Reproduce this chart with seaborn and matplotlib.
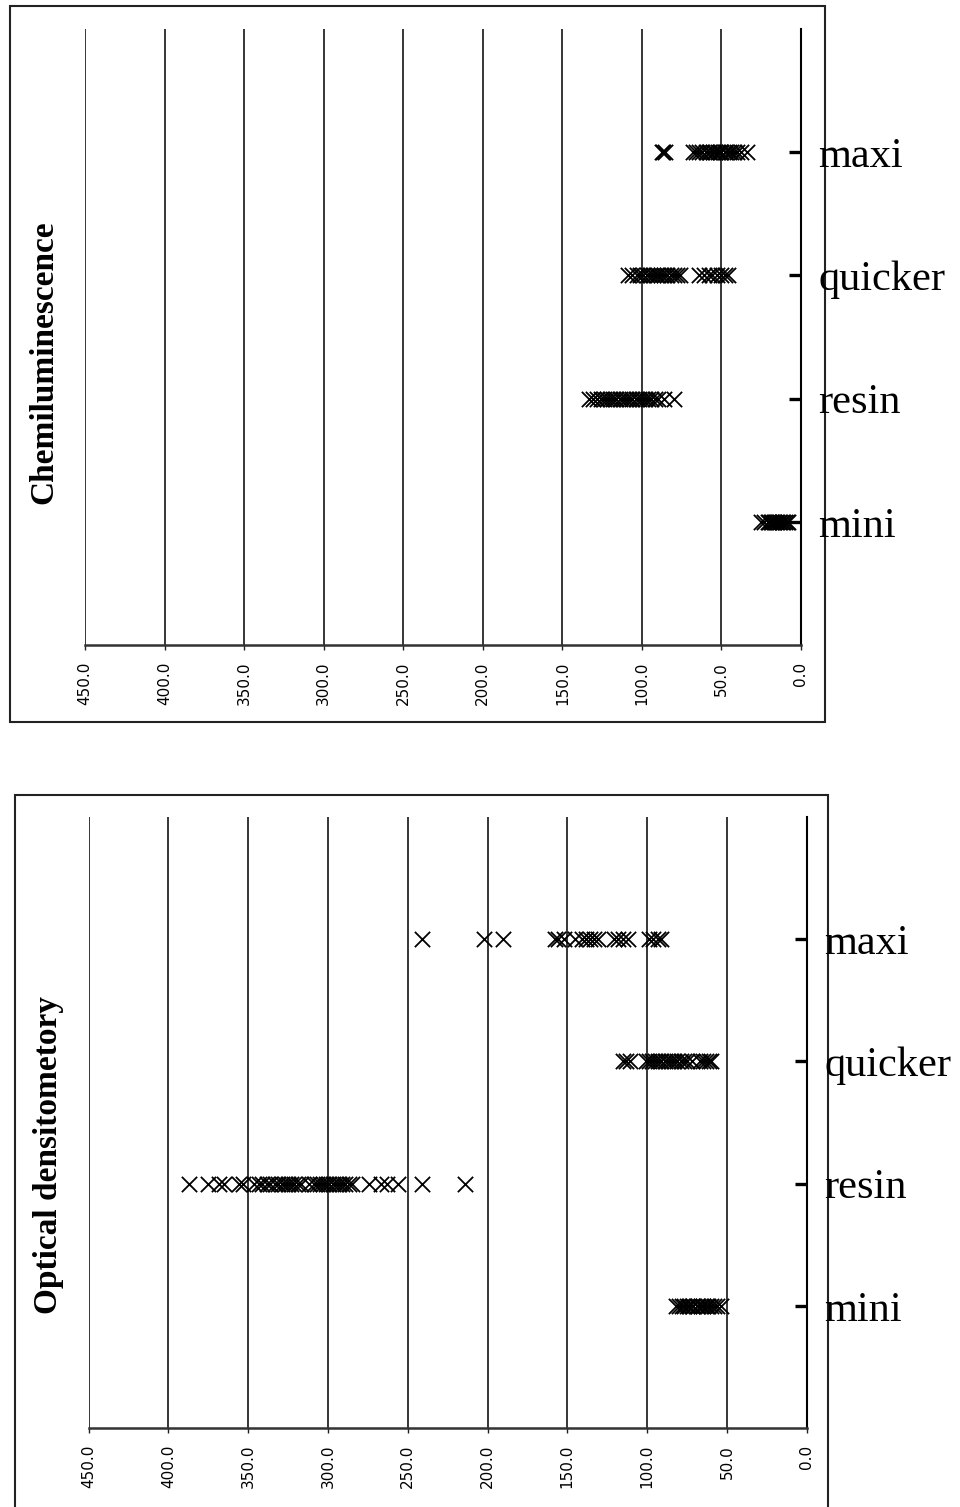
import numpy as np
import pandas as pd
import matplotlib
matplotlib.use("Agg")
import matplotlib.pyplot as plt
import seaborn as sns
from matplotlib.patches import Rectangle

# ---------------- data ----------------
categories = ["maxi", "quicker", "resin", "mini"]
value_ticks = [450, 400, 350, 300, 250, 200, 150, 100, 50, 0]
value_tick_labels = ["450.0", "400.0", "350.0", "300.0", "250.0",
                     "200.0", "150.0", "100.0", "50.0", "0.0"]

# Chemiluminescence panel
chemi_maxi = [87.5, 86.5, 85.5, 68, 66, 64, 62, 60, 58, 57, 55, 54, 52, 51,
              50, 48, 47, 45, 44, 42, 40, 38, 34]
chemi_quicker = [109, 106, 103, 101, 99, 97, 95, 93, 91, 90, 88, 86, 84, 82,
                 80, 78, 76, 64, 61, 58, 56, 53, 50, 48, 46]
chemi_resin = [133, 131, 128, 126, 124, 122, 120, 118, 116, 114, 112, 110, 108,
               106, 104, 102, 100, 98, 96, 94, 92, 90, 86, 80]
chemi_mini = [25, 23, 21, 20, 19, 18, 17, 16, 15, 14, 13, 12, 11, 10, 9, 8]

# Optical densitometry panel
od_maxi = [241, 202, 190, 158, 156, 152, 145, 141, 138, 136, 133, 131,
           121, 118, 115, 112, 99, 96, 93, 91]
od_quicker = [115, 113, 111, 101, 99, 97, 95, 93, 91, 89, 87, 85, 83, 81, 79,
              77, 75, 72, 67, 65, 63, 61, 60]
od_resin = [387, 375, 368, 365, 356, 353, 346, 343, 341, 338, 336, 333, 331,
            329, 327, 325, 323, 321, 319, 317, 312, 309, 307, 305, 303, 301,
            299, 297, 295, 293, 291, 289, 287, 285, 274, 267, 263, 256, 241, 214]
od_mini = [82, 80, 78, 77, 75, 74, 72, 71, 69, 68, 66, 65, 63, 62, 60, 58, 56, 54]

panel_titles = ["Chemiluminescence", "Optical densitometory"]

# ---------------- style ----------------
sns.set_theme(style="white")
plt.rcParams["font.family"] = ["DejaVu Sans"]
plt.rcParams["text.color"] = "black"
plt.rcParams["xtick.color"] = "black"
plt.rcParams["ytick.color"] = "black"
plt.rcParams["axes.labelcolor"] = "black"

W, H = 960, 1507
fig = plt.figure(figsize=(W / 100, H / 100), dpi=100)


def fx(px):
    return px / W


def fy(py):
    return 1 - py / H


def draw_panel(left, right, top, bottom, series, title, title_xy, box):
    ax = fig.add_axes([fx(left), fy(bottom), fx(right - left), (bottom - top) / H])
    rows = []
    for i, cat in enumerate(categories):
        for v in series[i]:
            rows.append({"category": cat, "pos": i + 1, "value": v})
    df = pd.DataFrame(rows)
    sns.scatterplot(data=df, x="value", y="pos", marker="x", color="black",
                    s=121, linewidth=1.3, ax=ax, legend=False, zorder=3)
    ax.set_xlim(450, 0)
    ax.set_ylim(5, 0)
    ax.set_xlabel("")
    ax.set_ylabel("")
    ax.set_facecolor("white")

    ax.set_xticks(value_ticks)
    ax.set_xticklabels(value_tick_labels, rotation=90)
    ax.tick_params(axis="x", direction="out", length=3.6, width=1.0,
                   color="#222222", pad=8.5, labelsize=11, bottom=True,
                   labelcolor="black")

    ax.yaxis.tick_right()
    ax.set_yticks([1, 2, 3, 4])
    ax.set_yticklabels(categories)
    ax.tick_params(axis="y", direction="in", length=8.8, width=2.4,
                   color="black", pad=12.5, labelsize=30.5,
                   right=True, left=False, labelcolor="black")
    for lbl in ax.get_yticklabels():
        lbl.set_fontfamily("Liberation Serif")

    ax.grid(axis="x", color="black", linewidth=1.1)
    ax.grid(axis="y", visible=False)
    ax.set_axisbelow(True)

    ax.spines["top"].set_visible(False)
    ax.spines["left"].set_visible(False)
    ax.spines["right"].set_visible(True)
    ax.spines["right"].set_color("black")
    ax.spines["right"].set_linewidth(1.5)
    ax.spines["bottom"].set_visible(True)
    ax.spines["bottom"].set_color("#333333")
    ax.spines["bottom"].set_linewidth(1.8)

    fig.text(fx(title_xy[0]), fy(title_xy[1]), title, rotation=90,
             ha="center", va="center", fontsize=24, fontweight="bold",
             family="Liberation Serif", color="black")

    bx0, by0, bx1, by1 = box
    rect = Rectangle((fx(bx0), fy(by1)), fx(bx1 - bx0), (by1 - by0) / H,
                     transform=fig.transFigure, fill=False,
                     edgecolor="#222222", linewidth=1.5, zorder=-1)
    fig.add_artist(rect)
    return ax


draw_panel(85, 801, 29, 645,
           [chemi_maxi, chemi_quicker, chemi_resin, chemi_mini],
           panel_titles[0], (44, 362), (10, 6, 825, 722))
draw_panel(88.5, 806.7, 817, 1428,
           [od_maxi, od_quicker, od_resin, od_mini],
           panel_titles[1], (49, 1155), (15, 795, 828, 1520))

fig.savefig("out.png", dpi=100, facecolor="white")
